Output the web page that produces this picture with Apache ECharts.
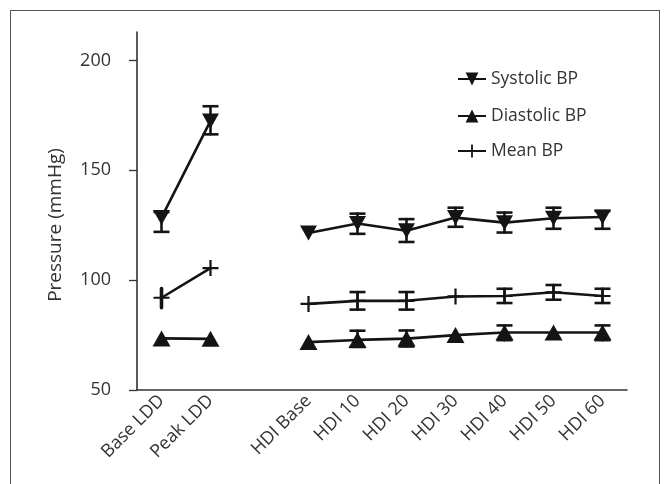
<!DOCTYPE html>
<html>
<head>
<meta charset="utf-8">
<script src="https://cdn.jsdelivr.net/npm/echarts@6/dist/echarts.min.js"></script>
<style>
  html, body { margin: 0; padding: 0; background: #fff; }
  #wrap { position: relative; width: 664px; height: 484px; overflow: hidden; }
  #chart { position: absolute; left: 0; top: 0; width: 664px; height: 484px; }
  #frame { position: absolute; left: 10px; top: 10px; width: 648px; height: 520px; border: 1.5px solid #555; pointer-events: none; }
</style>
</head>
<body>
<div id="wrap"><div id="chart"></div><div id="frame"></div></div>
<script>
// Categories (third slot is an empty gap between LDD and HDI groups)
const categories = ['Base LDD', 'Peak LDD', '', 'HDI Base', 'HDI 10', 'HDI 20', 'HDI 30', 'HDI 40', 'HDI 50', 'HDI 60'];

// Series means (mmHg)
const systolic  = [128.5, 172.5, null, 121.5, 125.8, 122.5, 128.5, 126.2, 128.2, 128.8];
const diastolic = [73.5, 73.3, null, 71.8, 72.8, 73.4, 75.0, 76.2, 76.2, 76.2];
const meanBP    = [92.0, 105.5, null, 89.2, 90.6, 90.6, 92.6, 92.8, 94.5, 92.8];

// Error bar ends (mmHg); null = not visible
const systolicLo  = [122.0, 166.4, null, null, 121.1, 117.4, 124.3, 121.7, 123.4, 123.4];
const systolicHi  = [131.0, 179.2, null, null, 130.3, 127.8, 133.0, 130.8, 133.0, 131.5];
const diastolicLo = [null, null, null, null, 69.6, 69.8, null, 72.7, null, 72.7];
const diastolicHi = [null, null, null, null, 77.0, 77.1, null, 79.4, null, 79.4];
const meanLo      = [87.5, null, null, null, 86.6, 86.6, null, 89.6, 91.1, 89.6];
const meanHi      = [96.2, null, null, null, 94.6, 94.6, null, 96.1, 97.8, 96.1];
// whether caps are drawn on each error bar (1 = caps, 0 = plain stem)
const meanCaps    = [0, 1, 1, 1, 1, 1, 1, 1, 1, 1];
const allCaps     = [1, 1, 1, 1, 1, 1, 1, 1, 1, 1];

// Y axis ticks
const yTicks = [50, 100, 150, 200];

const INK = '#141414';
const FONT = 'Open Sans';
const downTri = 'path://M0,0 L20,0 L10,18 Z';
const upTri = 'path://M10,0 L20,18 L0,18 Z';
const plus = 'path://M8.6,0 H11.4 V8.6 H20 V11.4 H11.4 V20 H8.6 V11.4 H0 V8.6 H8.6 Z';

function errSeries(lo, hi, caps) {
  const data = [];
  lo.forEach((l, i) => {
    if (l != null && hi[i] != null) data.push([i, l, hi[i], caps[i]]);
  });
  return {
    type: 'custom',
    silent: true,
    z: 3,
    data: data,
    encode: { x: 0, y: [1, 2] },
    renderItem: function (params, api) {
      const x = api.value(0);
      const a = api.coord([x, api.value(1)]);
      const b = api.coord([x, api.value(2)]);
      const capped = api.value(3) === 1;
      const hw = 8;
      const st = { stroke: INK, lineWidth: capped ? 2.6 : 3.6, lineCap: 'round' };
      const children = [
        { type: 'line', shape: { x1: a[0], y1: a[1], x2: b[0], y2: b[1] }, style: st }
      ];
      if (capped) {
        const cs = { stroke: INK, lineWidth: 2.6 };
        children.push({ type: 'line', shape: { x1: a[0] - hw, y1: a[1], x2: a[0] + hw, y2: a[1] }, style: cs });
        children.push({ type: 'line', shape: { x1: b[0] - hw, y1: b[1], x2: b[0] + hw, y2: b[1] }, style: cs });
      }
      return { type: 'group', children: children };
    }
  };
}

function lineSeries(name, data, symbol, size) {
  return {
    type: 'line',
    name: name,
    data: data,
    symbol: symbol,
    symbolSize: size,
    connectNulls: false,
    z: 4,
    lineStyle: { color: INK, width: 2.6 },
    itemStyle: { color: INK },
    emphasis: { disabled: true }
  };
}

function legendFor(name, top) {
  return {
    data: [name],
    left: 452,
    top: top,
    itemWidth: 28,
    itemHeight: 16,
    itemGap: 0,
    textStyle: { fontFamily: FONT, fontSize: 17.5, color: '#333' },
    selectedMode: false
  };
}

const chart = echarts.init(document.getElementById('chart'), null, { renderer: 'canvas' });
chart.setOption({
  animation: false,
  backgroundColor: '#fff',
  grid: { left: 137, right: 37, top: 32, bottom: 94, containLabel: false },
  legend: [
    legendFor('Systolic BP', 65),
    legendFor('Diastolic BP', 102),
    legendFor('Mean BP', 137)
  ],
  xAxis: {
    type: 'category',
    data: categories,
    boundaryGap: true,
    axisLine: { lineStyle: { color: '#333', width: 1.6 } },
    axisTick: { show: false },
    axisLabel: { rotate: 45, margin: 8, interval: 0, fontFamily: FONT, fontSize: 18, color: '#333' },
    splitLine: { show: false }
  },
  yAxis: {
    type: 'value',
    min: 50,
    max: 213,
    name: 'Pressure (mmHg)',
    nameLocation: 'middle',
    nameGap: 72,
    nameTextStyle: { fontFamily: FONT, fontSize: 19, color: '#333', padding: [0, 28, 0, 0] },
    axisLine: { show: true, lineStyle: { color: '#333', width: 1.6 } },
    axisTick: { show: true, length: 8, customValues: yTicks, lineStyle: { color: '#333', width: 1.3 } },
    axisLabel: { customValues: yTicks, margin: 26, fontFamily: FONT, fontSize: 18, color: '#333' },
    splitLine: { show: false }
  },
  series: [
    errSeries(systolicLo, systolicHi, allCaps),
    errSeries(diastolicLo, diastolicHi, allCaps),
    errSeries(meanLo, meanHi, meanCaps),
    lineSeries('Systolic BP', systolic, downTri, [17, 15]),
    lineSeries('Diastolic BP', diastolic, upTri, [18, 16]),
    lineSeries('Mean BP', meanBP, plus, [16, 16])
  ]
});
</script>
</body>
</html>
